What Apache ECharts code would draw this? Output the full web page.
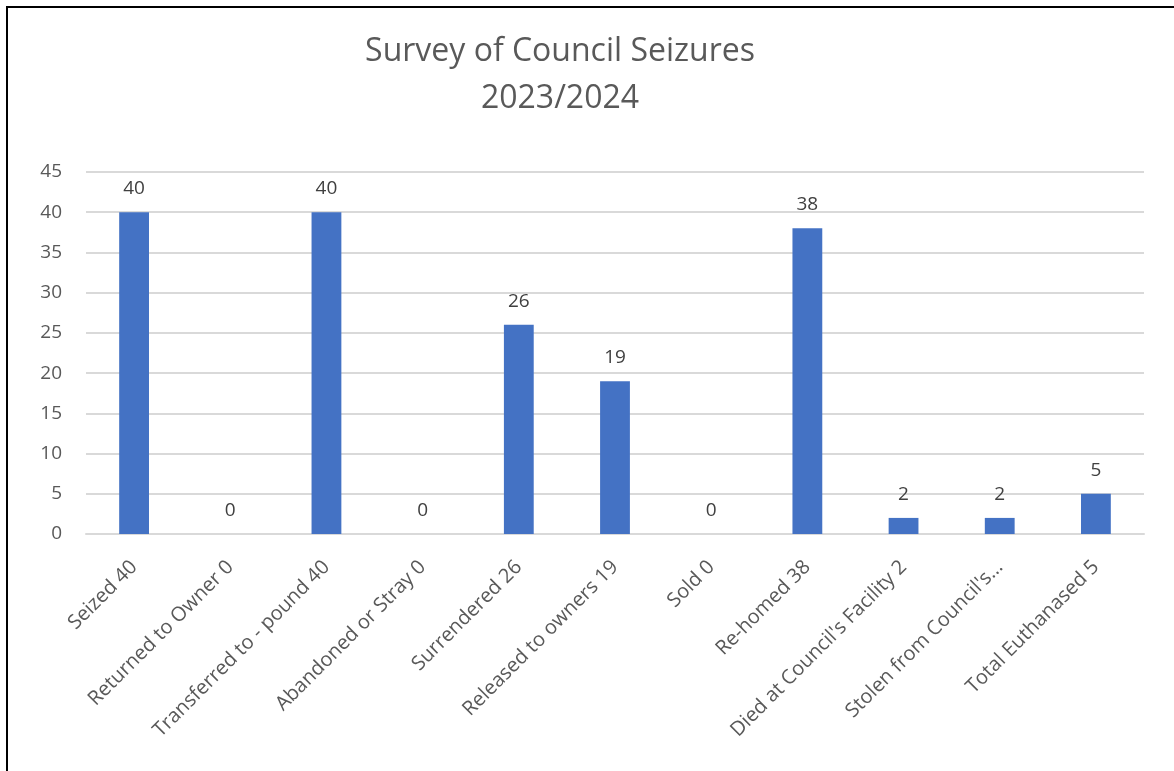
<!DOCTYPE html>
<html>
<head>
<meta charset="utf-8">
<script src="https://cdn.jsdelivr.net/npm/echarts@6/dist/echarts.min.js"></script>
<style>
  html, body { margin: 0; padding: 0; background: #fff; }
  #chart { width: 1174px; height: 771px; }
</style>
</head>
<body>
<div id="chart"></div>
<script>
// Outcome categories for council seizures, 2023/2024
const categories = [
  'Seized 40',
  'Returned to Owner 0',
  'Transferred to - pound 40',
  'Abandoned or Stray 0',
  'Surrendered 26',
  'Released to owners 19',
  'Sold 0',
  'Re-homed 38',
  "Died at Council's Facility 2",
  "Stolen from Council's\u2026",
  'Total Euthanased 5'
];
const counts = [40, 0, 40, 0, 26, 19, 0, 38, 2, 2, 5];
const yTicks = { min: 0, max: 45, interval: 5 };

const font = '"Open Sans", "Noto Sans", sans-serif';
const chart = echarts.init(document.getElementById('chart'), null, { renderer: 'canvas' });

chart.setOption({
  backgroundColor: '#ffffff',
  animation: false,
  title: {
    text: 'Survey of Council Seizures\n2023/2024',
    left: 555,
    textAlign: 'center',
    top: 23,
    textStyle: {
      fontFamily: font,
      fontSize: 32,
      fontWeight: 'normal',
      color: '#595959',
      lineHeight: 47
    }
  },
  grid: { left: 86, right: 30, top: 172, bottom: 237, containLabel: false },
  xAxis: {
    type: 'category',
    data: categories,
    axisLine: { lineStyle: { color: '#d9d9d9', width: 2 } },
    axisTick: { show: false },
    axisLabel: {
      interval: 0,
      rotate: 45,
      margin: 30,
      fontFamily: font,
      fontSize: 20,
      color: '#595959'
    }
  },
  yAxis: {
    type: 'value',
    min: yTicks.min,
    max: yTicks.max,
    interval: yTicks.interval,
    axisLine: { show: false },
    axisTick: { show: false },
    splitLine: { lineStyle: { color: '#d9d9d9', width: 2 } },
    axisLabel: {
      margin: 24,
      fontFamily: font,
      fontSize: 19,
      color: '#595959'
    }
  },
  series: [{
    type: 'bar',
    data: counts,
    barWidth: '31%',
    itemStyle: { color: '#4472c4' },
    label: {
      show: true,
      position: 'top',
      distance: 14,
      fontFamily: font,
      fontSize: 19,
      color: '#404040'
    }
  }],
  graphic: [
    { type: 'line', shape: { x1: 7, y1: 6, x2: 7, y2: 771 }, style: { stroke: '#000', lineWidth: 2 } },
    { type: 'line', shape: { x1: 6, y1: 7, x2: 1174, y2: 7 }, style: { stroke: '#000', lineWidth: 2 } }
  ]
});
</script>
</body>
</html>
